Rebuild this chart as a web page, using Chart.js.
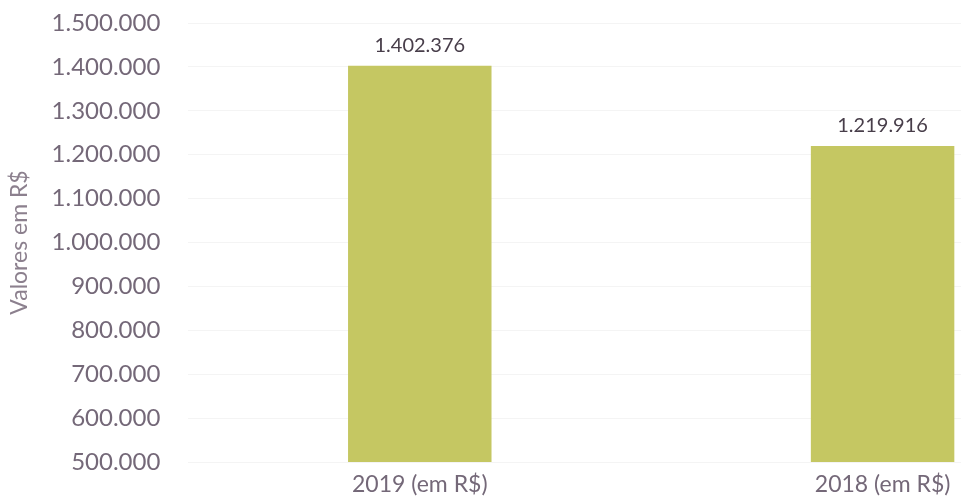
<!DOCTYPE html>
<html>
<head>
<meta charset="utf-8">
<script src="https://cdn.jsdelivr.net/npm/chart.js@4"></script>
<style>
  html, body { margin: 0; padding: 0; background: #fff; overflow: hidden; }
  #wrap { width: 1122px; height: 502px; }
</style>
</head>
<body>
<div id="wrap"><canvas id="myChart"></canvas></div>
<script>
// Receita por ano (valores em R$)
const categories = ['2019 (em R$)', '2018 (em R$)'];
const values = [1402376, 1219916];
const yMin = 500000;
const yMax = 1500000;
const yStep = 100000;

const barColor = 'rgb(197,199,98)';
const tickColor = 'rgb(116,104,120)';
const labelColor = 'rgb(72,62,74)';

// 1402376 -> "1.402.376"
function fmtBR(n) {
  return String(Math.round(n)).replace(/\B(?=(\d{3})+(?!\d))/g, '.');
}

// draws the value above each bar
const valueLabels = {
  id: 'valueLabels',
  afterDatasetsDraw(chart) {
    const ctx = chart.ctx;
    ctx.save();
    ctx.font = '20px Lato';
    ctx.fillStyle = labelColor;
    ctx.textAlign = 'center';
    ctx.textBaseline = 'bottom';
    chart.getDatasetMeta(0).data.forEach((bar, i) => {
      ctx.fillText(fmtBR(values[i]), bar.x, bar.y - 10);
    });
    ctx.restore();
  }
};

document.addEventListener('DOMContentLoaded', function () {
  const config = {
    type: 'bar',
    data: {
      labels: categories,
      datasets: [{
        data: values,
        backgroundColor: barColor,
        borderWidth: 0,
        barPercentage: 0.62,
        categoryPercentage: 0.5,
      }]
    },
    options: {
      animation: false,
      responsive: true,
      maintainAspectRatio: false,
      layout: { padding: { left: 2, right: 8, top: 23, bottom: 0 } },
      plugins: {
        legend: { display: false },
        tooltip: { enabled: false },
      },
      scales: {
        x: {
          grid: { display: false, drawTicks: false },
          border: { display: false },
          ticks: {
            color: tickColor,
            padding: 9,
            font: { family: 'Lato', size: 23 },
          },
          // fixed height for the category strip
          afterFit: scale => { scale.height = 40; },
        },
        y: {
          min: yMin,
          max: yMax,
          // invisible tick marks keep the labels away from the plot
          // (ticks.padding would also add room above the plot)
          grid: { color: 'rgba(0,0,0,0.045)', tickLength: 24, tickColor: 'rgba(0,0,0,0)' },
          border: { display: false },
          ticks: {
            stepSize: yStep,
            color: tickColor,
            padding: 4,
            font: { family: 'Lato', size: 24 },
            callback: v => fmtBR(v),
          },
          title: {
            display: true,
            text: 'Valores em R$',
            color: 'rgb(140,128,142)',
            padding: { top: 4, bottom: 14 },
            font: { family: 'Lato', size: 23 },
          }
        }
      }
    },
    plugins: [valueLabels]
  };

  const ctx = document.getElementById('myChart').getContext('2d');
  new Chart(ctx, config);
});
</script>
</body>
</html>
